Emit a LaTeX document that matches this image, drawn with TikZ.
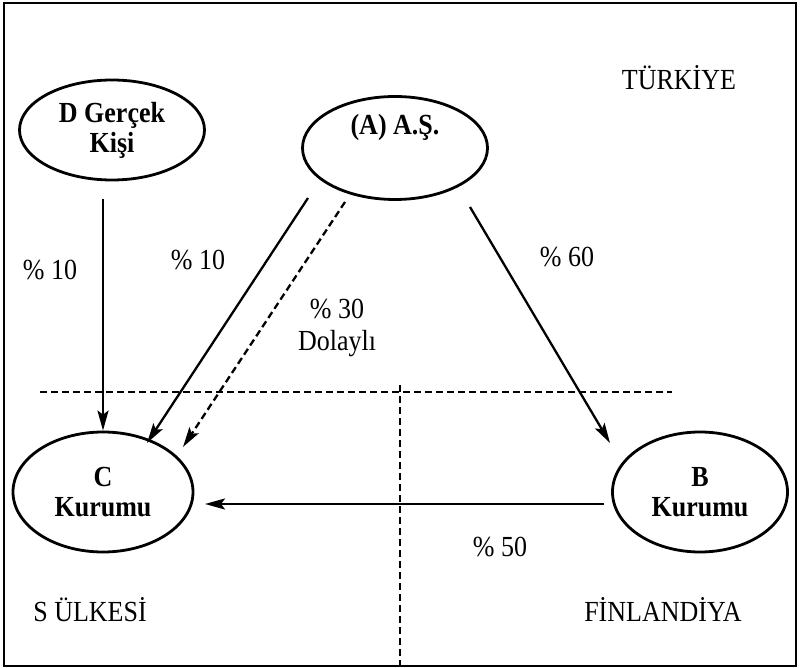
\documentclass[tikz,border=0pt]{standalone}
\usepackage{fontspec}
\setmainfont{Liberation Serif}
\usetikzlibrary{shapes.geometric,arrows.meta,calc}
\newcommand{\vstr}[1]{\scalebox{1}[1.12]{#1}}
\begin{document}
\begin{tikzpicture}[x=1pt,y=-1pt,
  ell/.style={ellipse,draw,line width=2.8pt,inner sep=0pt,font=\fontsize{26}{30}\selectfont\bfseries,align=center},
  arr/.style={line width=2.3pt,-{Stealth[length=20pt,width=11pt,inset=4pt]}},
  dsh/.style={line width=2.3pt,dash pattern=on 7pt off 4pt},
  lbl/.style={font=\fontsize{26}{32}\selectfont,align=center,inner sep=0pt}]
\useasboundingbox (0,0) rectangle (801,668);
\draw[line width=2.2pt] (4,3) rectangle (796,666);
% nodes
\node[ell,minimum width=185pt,minimum height=100pt] (D) at (112,130) {\vstr{D Gerçek}\\\vstr{Kişi}};
\node[ell,minimum width=185pt,minimum height=103pt] (A) at (395,148) {};
\node[lbl,font=\fontsize{26}{30}\selectfont\bfseries] (At) at (395,128) {\vstr{(A) A.Ş.}};
\node[ell,minimum width=180pt,minimum height=120pt] (C) at (103,492) {\vstr{C}\\\vstr{Kurumu}};
\node[ell,minimum width=175pt,minimum height=120pt] (B) at (700,492) {\vstr{B}\\\vstr{Kurumu}};
% dashed borders
\coordinate (hl) at (40,392);
\coordinate (hr) at (672,392);
\coordinate (vt) at (400,385);
\coordinate (vb) at (400,666);
\draw[dsh] (hl) -- (hr);
\draw[dsh] (vt) -- (vb);
% arrows
\draw[arr,shorten <=18pt] (D.south -| C.north) -- (C.north);
\draw[arr] ($(A.center)+(-87,50)$) -- ($(C.center)+(44,-49)$);
\draw[arr,dash pattern=on 7pt off 4pt] ($(A.center)+(-50,54)$) -- ($(C.center)+(80,-45)$);
\draw[arr] ($(A.center)+(75,59)$) -- ($(B.center)+(-90,-49)$);
\draw[arr] ($(B.center)+(-96,12)$) -- ($(C.center)+(102,12)$);
% labels
\node[lbl] (l1) at (50,270) {\vstr{\% 10}};
\node[lbl] (l2) at (198,260) {\vstr{\% 10}};
\node[lbl] (l3) at (337,328) {\vstr{\% 30}\\\vstr{Dolaylı}};
\node[lbl] (l4) at (567,257) {\vstr{\% 60}};
\node[lbl] (l5) at (500,547) {\vstr{\% 50}};
\node[lbl] (t1) at (679,78) {\vstr{TÜRKİYE}};
\node[lbl] (t2) at (90,610) {\vstr{S ÜLKESİ}};
\node[lbl] (t3) at (663,610) {\vstr{FİNLANDİYA}};
\end{tikzpicture}
\end{document}
